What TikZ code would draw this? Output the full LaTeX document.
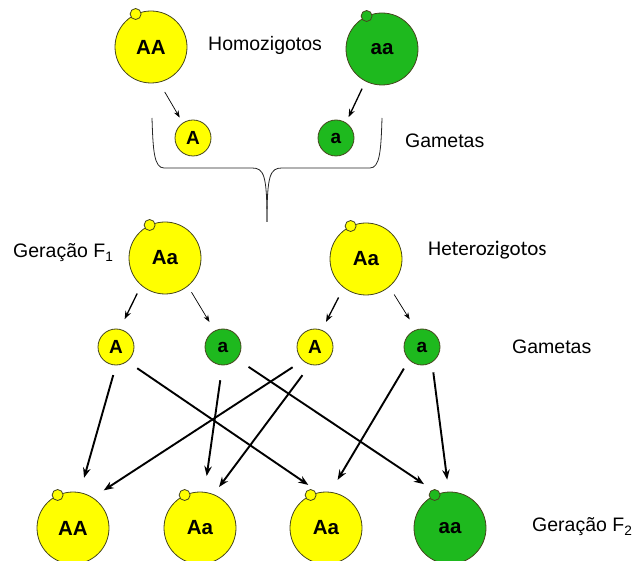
\documentclass[tikz,border=0pt]{standalone}
\usepackage{fontspec}
\setmainfont{Liberation Sans}
\newfontfamily\calibrifont{Carlito}
\usetikzlibrary{arrows.meta}

\definecolor{yel}{RGB}{255,255,0}
\definecolor{grn}{RGB}{30,185,30}
\definecolor{rim}{RGB}{70,70,30}

\begin{document}
\begin{tikzpicture}[x=1pt,y=1pt]
    		\newcommand{\bigrad}{36pt}
    		\newcommand{\gamrad}{18pt}
    		\newcommand{\dotrad}{5.5pt} % radii of the buds
    		
    		% set the styles of cells, gametes and arrows
    		\tikzset{
    			cell/.style={
    				circle,
    				draw=rim,
    				line width=0.8pt,
    				inner sep=0pt,
    				minimum size=2*\bigrad,
    				font=\fontsize{20.5}{20}\selectfont\bfseries
    				},
    			gamete/.style={
    				cell,
    				minimum size=2*\gamrad,
    				font=\fontsize{19}{19}\selectfont\bfseries
    				},
    			lbl/.style={anchor=west, inner sep=0pt, font=\fontsize{19.5}{22}\selectfont},
    			brace/.style={line width=0.8pt, draw=black!85},
    			thinarr/.style={-{Stealth[length=7pt,width=5pt]}, line width=0.7pt},
    			arr/.style={-{Stealth[length=8pt,width=6pt]}, line width=1.3pt},
    			cross/.style={-{Stealth[length=10pt,width=7.5pt]}, line width=1.9pt}
    		}
    		\useasboundingbox (0,0) rectangle (637,560);
    	
    		% parents
		    \node[cell, fill=yel] (pAA) at (151,513) {AA};
		    \node[cell, fill=grn] (paa) at (382,511) {aa};
		    \node[lbl] (homo) at (208,515) {Homozigotos};
		    \node[gamete, fill=yel] (gA) at (193,422) {A};
		    \node[gamete, fill=grn] (ga) at (336,422) {a};
		    \node[lbl] (gam1) at (405,419) {Gametas};
		    
		    % brace
		    \draw[brace] (152,442) .. controls (153,410) and (154,392) .. (164,392) -- (252,392) .. controls (264,392) and (267,385) .. (267,338);
		    \draw[brace] (382,442) .. controls (381,410) and (380,392) .. (370,392) -- (282,392) .. controls (270,392) and (267,385) .. (267,338);
		    
		    % F1
		    \node[lbl] (f1) at (13,307) {Geração F\textsubscript{1}};
		    \node[cell, fill=yel] (f1a) at (165,302) {Aa};
		    \node[cell, fill=yel] (f1b) at (366,301) {Aa};
		    \node[lbl, font=\fontsize{21}{24}\selectfont\calibrifont] (het) at (428,310) {Heterozigotos};
		    
		    % gametes of F1
		    \node[gamete, fill=yel] (g1) at (116,213) {A};
		    \node[gamete, fill=grn] (g2) at (223,213) {a};
		    \node[gamete, fill=yel] (g3) at (315,213) {A};
		    \node[gamete, fill=grn] (g4) at (422,213) {a};
		    \node[lbl] (gam2) at (512,213) {Gametas};
		    
		    % F2
		    \node[cell, fill=yel] (f2a) at (73,32) {AA};
		    \node[cell, fill=yel] (f2b) at (200,32) {Aa};
		    \node[cell, fill=yel] (f2c) at (326,32) {Aa};
		    \node[cell, fill=grn] (f2d) at (450,32) {aa};
		    \node[lbl] (f2) at (532,33) {Geração F\textsubscript{2}};
		    
		    % buds
		    \filldraw[draw=rim, fill=yel, line width=0.8pt] (pAA.115) circle (\dotrad);
		    \filldraw[draw=rim, fill=grn, line width=0.8pt] (paa.115) circle (\dotrad);
		    \filldraw[draw=rim, fill=yel, line width=0.8pt] (f1a.115) circle (\dotrad);
		    \filldraw[draw=rim, fill=yel, line width=0.8pt] (f1b.115) circle (\dotrad);
		    \filldraw[draw=rim, fill=yel, line width=0.8pt] (f2a.115) circle (\dotrad);
		    \filldraw[draw=rim, fill=yel, line width=0.8pt] (f2b.115) circle (\dotrad);
		    \filldraw[draw=rim, fill=yel, line width=0.8pt] (f2c.115) circle (\dotrad);
		    \filldraw[draw=rim, fill=grn, line width=0.8pt] (f2d.115) circle (\dotrad);

			% arrows
			\draw[thinarr, shorten <=11pt, shorten >=6pt] (pAA.-77) -- (gA.124);
			\draw[arr, shorten <=8pt, shorten >=6pt] (paa.-117) -- (ga.57);
			\draw[arr, shorten <=9pt, shorten >=11pt] (f1a.-131) -- (g1.78);
			\draw[thinarr, shorten <=7pt, shorten >=10pt] (f1a.-51) -- (g2.117);
			\draw[arr, shorten <=11pt, shorten >=9pt] (f1b.-128) -- (g3.68);
			\draw[thinarr, shorten <=9pt, shorten >=12pt] (f1b.-50) -- (g4.109);
			
			% crosses
			\draw[cross, shorten <=10pt, shorten >=15pt] (g1.-90) -- (f2a.79);
			\draw[cross, shorten <=12pt, shorten >=13pt] (g1.-52) -- (f2c.101);
			\draw[cross, shorten <=15pt, shorten >=16pt] (g2.-92) -- (f2b.83);
			\draw[cross, shorten <=14pt, shorten >=17pt] (g2.-41) -- (f2d.109);
			\draw[cross, shorten <=12pt, shorten >=13pt] (g3.-132) -- (f2a.57);
			\draw[cross, shorten <=13pt, shorten >=9pt] (g3.-105) -- (f2b.68);
			\draw[cross, shorten <=10pt, shorten >=14pt] (g4.-135) -- (f2c.83);
			\draw[cross, shorten <=10pt, shorten >=12pt] (g4.-57) -- (f2d.92);
		      
\end{tikzpicture}
\end{document}
